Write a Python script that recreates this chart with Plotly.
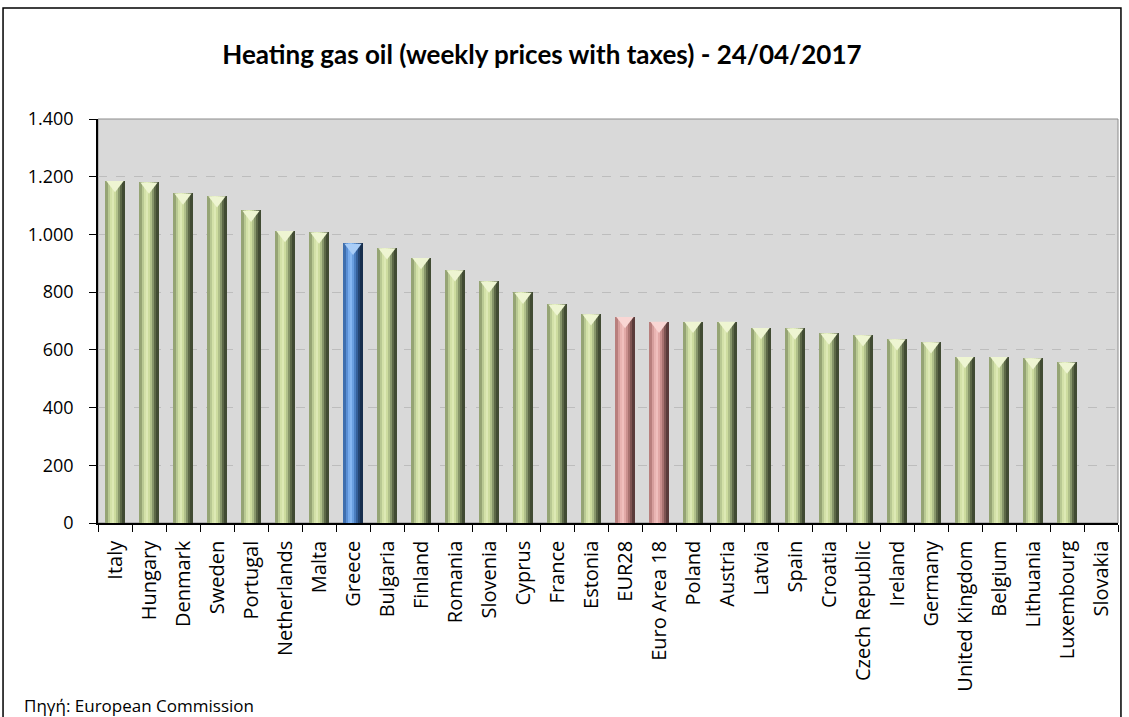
import plotly.graph_objects as go

countries = ["Italy", "Hungary", "Denmark", "Sweden", "Portugal", "Netherlands", "Malta",
             "Greece", "Bulgaria", "Finland", "Romania", "Slovenia", "Cyprus", "France",
             "Estonia", "EUR28", "Euro Area 18", "Poland", "Austria", "Latvia", "Spain",
             "Croatia", "Czech Republic", "Ireland", "Germany", "United Kingdom", "Belgium",
             "Lithuania", "Luxembourg", "Slovakia"]
prices = [1186, 1181, 1143, 1133, 1083, 1013, 1008, 969, 953, 919, 877, 838, 799, 758,
          724, 715, 698, 698, 698, 677, 675, 658, 652, 638, 627, 576, 576, 572, 557, 0]
groups = ["other"] * 7 + ["greece"] + ["other"] * 7 + ["eu", "eu"] + ["other"] * 13

y_ticks = [0, 200, 400, 600, 800, 1000, 1200, 1400]

# shading profiles (left -> right) for the cylinder look
profiles = {
    "other": ["#95a474", "#b9c993", "#d3e1a8", "#dde9b5", "#cddc9f", "#b0c08a", "#86956a", "#5c6847", "#414b33"],
    "greece": ["#3f6fae", "#5a8fd5", "#78acec", "#86b7f2", "#6a9fe0", "#4c7fc0", "#35609a", "#244470", "#172e4d"],
    "eu": ["#b87f7d", "#d69e9c", "#e9b4b2", "#f0bfbd", "#e2a9a7", "#c98f8d", "#a87270", "#7e5452", "#5a3b3a"],
}
chevron = {"other": "#eef5d2", "greece": "#a9cdf7", "eu": "#f9d6d4"}

bar_w = 0.56
n = len(profiles["other"])
fig = go.Figure()
for k in range(n):
    fig.add_trace(go.Bar(
        x=countries, y=prices,
        width=bar_w / n + 0.004, offset=-bar_w / 2 + k * bar_w / n,
        marker=dict(color=[profiles[g][k] for g in groups], line=dict(width=0)),
        showlegend=False, hoverinfo="skip" if k else "x+y",
    ))

# bevel chevron at the top of each bar
fig.add_trace(go.Scatter(
    x=countries, y=[p - 14 if p > 0 else None for p in prices],
    mode="markers",
    marker=dict(symbol="triangle-down", size=15, color=[chevron[g] for g in groups],
                line=dict(width=0)),
    showlegend=False, hoverinfo="skip",
))

lab_font = "Open Sans"
title_font = "Lato"

fig.update_layout(
    width=1129, height=717,
    margin=dict(l=98, r=11, t=119, b=194),
    paper_bgcolor="white", plot_bgcolor="#d9d9d9",
    barmode="overlay", bargap=0,
    separators=",.",
    font=dict(family=lab_font, size=18, color="black"),
    title=dict(text="<b>Heating gas oil (weekly prices with taxes) - 24/04/2017</b>",
               x=0.480, xanchor="center", y=0.923, yanchor="middle",
               font=dict(family=title_font, size=26, color="black")),
    xaxis=dict(type="category", tickangle=-90, showline=True, linecolor="black", linewidth=1.5,
               ticks="outside", tickson="boundaries", ticklen=7, tickcolor="black",
               ticklabelstandoff=8,
               tickfont=dict(family=lab_font, size=20), showgrid=False,
               range=[-0.5, len(countries) - 0.5]),
    yaxis=dict(range=[0, 1400], tickvals=y_ticks, tickformat=",d", showline=True,
               linecolor="black", linewidth=1.5, ticks="outside", ticklen=7, tickcolor="black",
               ticklabelstandoff=12,
               showgrid=True, gridcolor="#bdbdbd", griddash="dash", gridwidth=1,
               zeroline=False, tickfont=dict(family=lab_font, size=18)),
    shapes=[
        # plot area frame (top / right in grey)
        dict(type="rect", xref="paper", yref="paper", x0=0, x1=1, y0=0, y1=1,
             line=dict(color="#8c8c8c", width=1), layer="below"),
        # outer chart frame
        dict(type="rect", xref="paper", yref="paper", x0=-0.0931, x1=1.0029,
             y0=-0.5, y1=1.2748, line=dict(color="black", width=1.5)),
    ],
    annotations=[
        dict(text="Πηγή: European Commission", xref="paper", yref="paper",
             x=-0.0745, y=-0.4505, xanchor="left", yanchor="middle", showarrow=False,
             font=dict(family=lab_font, size=17, color="black")),
    ],
)

fig.write_html("out.html", config={"displayModeBar": False},
               post_script="document.body.style.margin='0';")
